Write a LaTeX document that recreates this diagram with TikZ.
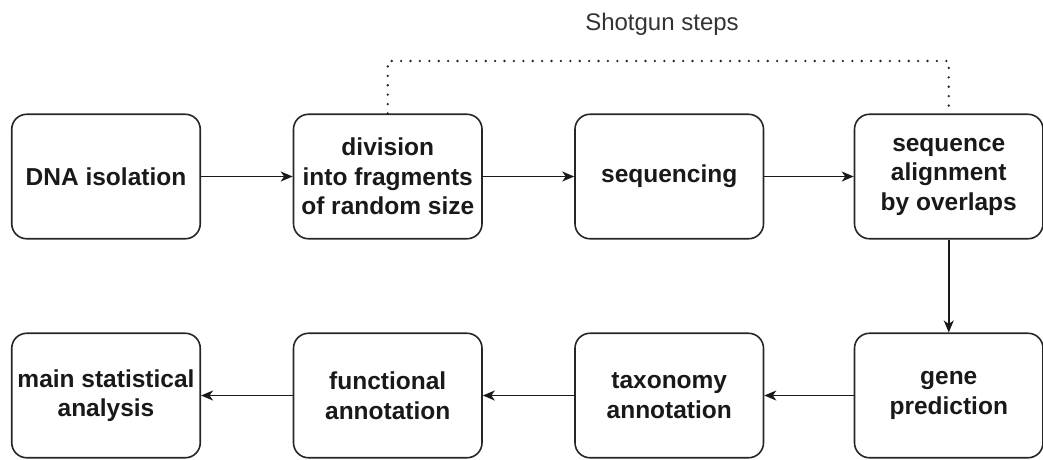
\documentclass[tikz,border=0pt]{standalone}
\usepackage{fontspec}
\setmainfont{Liberation Sans}
\usetikzlibrary{arrows.meta}
\begin{document}
\begin{tikzpicture}[x=1pt,y=-1pt,
  stepbox/.style={draw=black!85, line width=1.6pt, rounded corners=15pt,
    minimum width=188.5pt, minimum height=124.5pt, inner sep=1pt, align=center,
    font=\fontsize{24.5}{29.5}\selectfont\bfseries, text=black!90},
  flow/.style={draw=black!90, line width=1.6pt, -{Stealth[length=12pt,width=10pt,inset=3.5pt]}},
  dotline/.style={draw=black!85, line width=2.6pt, line cap=round, dash pattern=on 0pt off 9.4pt},
  lbl/.style={font=\fontsize{24}{29}\selectfont, text=black!80}]
\useasboundingbox (0,0) rectangle (1043,459);
\node[stepbox] (b1) at (106,176.5) {DNA isolation};
\node[stepbox] (b2) at (387.75,176.5) {division\\into fragments\\of random size};
\node[stepbox] (b3) at (669.25,176.5) {sequencing};
\node[stepbox] (b4) at (948.75,176.5) {sequence\\alignment\\by overlaps};
\node[stepbox] (b5) at (948.75,395.5) {gene\\prediction};
\node[stepbox] (b6) at (669.25,395.5) {taxonomy\\annotation};
\node[stepbox] (b7) at (387.75,395.5) {functional\\annotation};
\node[stepbox] (b8) at (106,395.5) {main statistical\\analysis};
\node[lbl] (sg) at (662,24) {Shotgun steps};
\coordinate (top) at (0,61);
\draw[flow] (b1) -- (b2);
\draw[flow] (b2) -- (b3);
\draw[flow] (b3) -- (b4);
\draw[flow] (b4) -- (b5);
\draw[flow] (b5) -- (b6);
\draw[flow] (b6) -- (b7);
\draw[flow] (b7) -- (b8);
\draw[dotline] (b2.north) -- (b2.north |- top) -- (b4.north |- top) -- (b4.north);
\end{tikzpicture}
\end{document}
